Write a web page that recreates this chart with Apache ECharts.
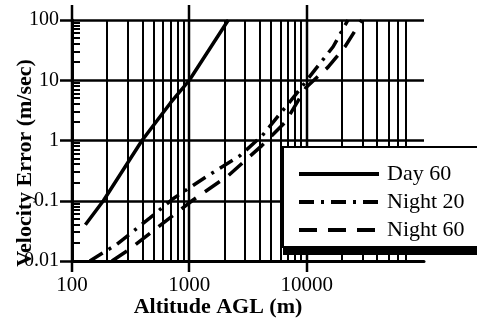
<!DOCTYPE html>
<html>
<head>
<meta charset="utf-8">
<script src="https://cdn.jsdelivr.net/npm/echarts@6/dist/echarts.min.js"></script>
<style>
  html, body { margin: 0; padding: 0; background: #fff; }
  #chart { width: 477px; height: 325px; }
</style>
</head>
<body>
<div id="chart"></div>
<script>
// Velocity error vs. altitude for the three navigation cases
const dayAlt   = [130, 185, 395, 690, 1000, 2150];
const dayErr   = [0.04, 0.1, 1, 4.2, 10, 100];

const night20Alt = [142, 242, 462, 726, 1390, 2700, 4170, 7960, 11800, 16800, 22500];
const night20Err = [0.01, 0.019, 0.052, 0.108, 0.25, 0.56, 1.2, 5.6, 15, 36, 100];

const night60Alt = [219, 312, 530, 1054, 2140, 4170, 6550, 9890, 15200, 21200, 29500];
const night60Err = [0.01, 0.0158, 0.0355, 0.1, 0.26, 0.83, 2, 7.6, 16.5, 36, 100];

const seriesNames = ['Day 60', 'Night 20', 'Night 60'];

// Axis decades and the 2..9 subdivisions used for the log grid
const xDecades = [100, 1000, 10000];
const yDecades = [0.01, 0.1, 1, 10, 100];
const minorSteps = [2, 3, 4, 5, 6, 7, 8, 9];
const xGridLimit = 70000;

const FONT = '"Liberation Serif", "Times New Roman", serif';

function pairs(xs, ys) {
  return xs.map((x, i) => [x, ys[i]]);
}

const xMinor = [];
xDecades.forEach(d => minorSteps.forEach(k => {
  if (k * d <= xGridLimit) xMinor.push(k * d);
}));
const yMinor = [];
yDecades.slice(0, -1).forEach(d => minorSteps.forEach(k => yMinor.push(k * d)));

// Log grid: minor verticals, decade verticals poking past the frame, minor y ticks
function renderGrid(params, api) {
  const children = [];
  const top = api.coord([100, 100])[1];
  const bottom = api.coord([100, 0.01])[1];
  const left = api.coord([100, 1])[0];
  xMinor.forEach(v => {
    const x = Math.round(api.coord([v, 1])[0]);
    children.push({
      type: 'line',
      shape: { x1: x, y1: top, x2: x, y2: bottom },
      style: { stroke: '#000', lineWidth: 2 }
    });
  });
  xDecades.forEach(v => {
    const x = Math.round(api.coord([v, 1])[0]);
    children.push({
      type: 'line',
      shape: { x1: x, y1: top - 15, x2: x, y2: bottom + 11 },
      style: { stroke: '#000', lineWidth: 2.5 }
    });
  });
  yMinor.forEach(v => {
    const y = Math.round(api.coord([100, v])[1]);
    children.push({
      type: 'line',
      shape: { x1: left, y1: y, x2: left + 8, y2: y },
      style: { stroke: '#000', lineWidth: 2 }
    });
  });
  return { type: 'group', children };
}

function lineSeries(name, xs, ys, dash) {
  return {
    type: 'line',
    name: name,
    data: pairs(xs, ys),
    symbol: 'none',
    showSymbol: false,
    z: 3,
    itemStyle: { color: '#000' },
    lineStyle: { color: '#000', width: 3.5, type: dash, cap: 'butt' }
  };
}

const chart = echarts.init(document.getElementById('chart'), null, { renderer: 'canvas' });

chart.setOption({
  animation: false,
  backgroundColor: '#fff',
  grid: {
    left: 72, top: 20, width: 352, height: 241,
    containLabel: false,
    outerBoundsMode: 'none'
  },
  xAxis: {
    type: 'log',
    logBase: 10,
    min: 100,
    max: 100000,
    axisLine: { show: true, lineStyle: { color: '#000', width: 3 } },
    axisTick: { show: false },
    splitLine: { show: false },
    minorTick: { show: false },
    axisLabel: {
      color: '#000',
      fontFamily: FONT,
      fontSize: 21,
      margin: 14,
      formatter: v => (v >= 100000 ? '' : String(Math.round(v)))
    }
  },
  yAxis: {
    type: 'log',
    logBase: 10,
    min: 0.01,
    max: 100,
    axisLine: { show: true, lineStyle: { color: '#000', width: 3 } },
    axisTick: { show: true, length: 12, lineStyle: { color: '#000', width: 2.5 } },
    splitLine: { show: true, lineStyle: { color: '#000', width: 2.5 } },
    axisLabel: {
      color: '#000',
      fontFamily: FONT,
      fontSize: 20,
      margin: 13,
      formatter: v => String(parseFloat(Number(v).toPrecision(6)))
    }
  },
  legend: {
    data: seriesNames,
    orient: 'vertical',
    left: 297,
    top: 163,
    padding: 0,
    itemWidth: 80,
    itemHeight: 20,
    itemGap: 6,
    z: 10,
    itemStyle: { opacity: 0 },
    lineStyle: { width: 4 },
    textStyle: { color: '#000', fontFamily: FONT, fontSize: 22, padding: [0, 0, 0, 3] }
  },
  graphic: [
    { type: 'rect', z: 5, shape: { x: 283, y: 150, width: 200, height: 105 }, style: { fill: '#000' } },
    { type: 'rect', z: 6, shape: { x: 283, y: 147, width: 200, height: 100 },
      style: { fill: '#fff', stroke: '#000', lineWidth: 2 } },
    { type: 'text', z: 6, x: 218, y: 307,
      style: { text: 'Altitude AGL (m)', font: 'bold 22px ' + FONT, fill: '#000', align: 'center', verticalAlign: 'middle' } },
    { type: 'text', z: 6, x: 25, y: 163, rotation: Math.PI / 2,
      style: { text: 'Velocity Error (m/sec)', font: 'bold 22px ' + FONT, fill: '#000', align: 'center', verticalAlign: 'middle' } }
  ],
  series: [
    {
      type: 'custom',
      silent: true,
      z: 1,
      clip: false,
      renderItem: renderGrid,
      data: [[1000, 1]]
    },
    lineSeries('Day 60', dayAlt, dayErr, 'solid'),
    lineSeries('Night 20', night20Alt, night20Err, [15, 7, 3, 7]),
    lineSeries('Night 60', night60Alt, night60Err, [18, 11])
  ]
});
</script>
</body>
</html>
